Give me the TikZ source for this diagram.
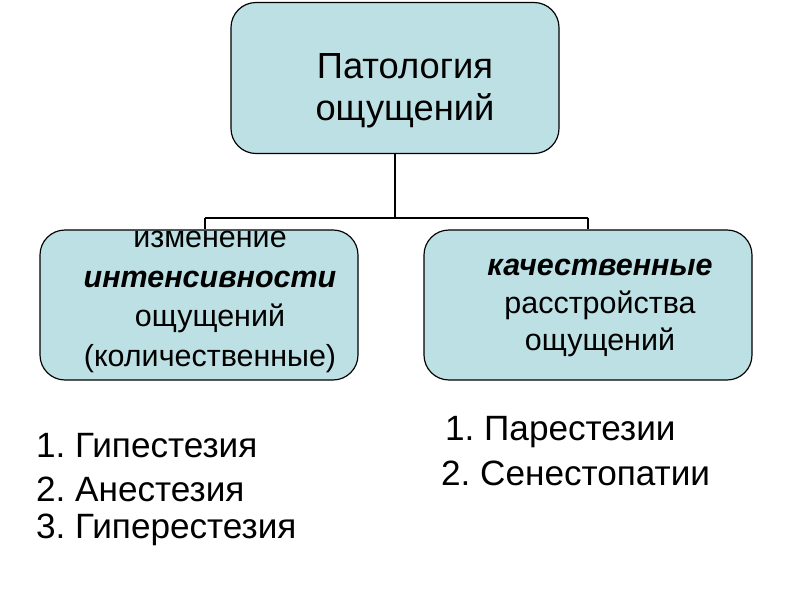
\documentclass[tikz,border=0pt]{standalone}
\usepackage{fontspec}
\setmainfont{Liberation Sans}
\frenchspacing
\definecolor{boxblue}{RGB}{189,224,228}
\tikzset{
  box/.style={draw,fill=boxblue,rounded corners=0.75cm,line width=1pt},
  txt/.style={align=center,font=\fontsize{26}{33}\selectfont},
  item/.style={anchor=west,font=\fontsize{30}{34}\selectfont}
}
\begin{document}
\begin{tikzpicture}[x=0.03cm,y=-0.03cm]
      \useasboundingbox (0,0) rectangle (800,600);

      \node[box,minimum width=328*0.03cm,minimum height=151*0.03cm] (top) at (395,78) {};
      \node[box,minimum width=318*0.03cm,minimum height=150*0.03cm] (left) at (199,305) {};
      \node[box,minimum width=328*0.03cm,minimum height=150*0.03cm] (right) at (588,305) {};

      \node[txt,font=\fontsize{31}{36}\selectfont] (toptext) at (405,91) {Патология\\ощущений};
      \node[txt,font=\fontsize{26}{34}\selectfont] (lefttext) at (210,302) {изменение\\\textbf{\textit{интенсивности}}\\ощущений\\(количественные)};
      \node[txt,font=\fontsize{26}{32}\selectfont] (righttext) at (600,308) {\textbf{\textit{качественные}}\\расстройства\\ощущений};

      \coordinate (jl) at (205,218);
      \coordinate (jr) at (588,218);
      \draw[line width=1.2pt] (top.south) -- (top.south |- jl);
      \draw[line width=2.5pt] (jl) -- (jr);
      \draw[line width=1.2pt] (jl) -- (jl |- left.north);
      \draw[line width=1.2pt] (jr) -- (jr |- right.north);

      \node[item] (l1) at (32,446) {1. Гипестезия};
      \node[item] (l2) at (32,489) {2. Анестезия};
      \node[item] (l3) at (32,530) {3. Гиперестезия};
      \node[item] (r1) at (441,432) {1. Парестезии};
      \node[item] (r2) at (437,473) {2. Сенестопатии};
\end{tikzpicture}
\end{document}
